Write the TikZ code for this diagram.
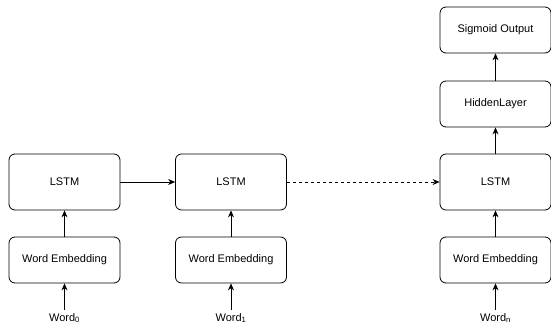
\documentclass[tikz,border=0pt]{standalone}
\usepackage{fontspec}
\setmainfont{Liberation Sans}
\usetikzlibrary{arrows.meta}
\begin{document}
\begin{tikzpicture}[x=1pt,y=-1pt,
  blk/.style={draw, line width=0.8pt, rounded corners=6pt, minimum width=111pt, inner sep=0pt, font=\fontsize{11}{13}\selectfont},
  tall/.style={blk, minimum height=56pt},
  short/.style={blk, minimum height=46pt},
  lbl/.style={inner sep=0pt, font=\fontsize{11}{13}\selectfont},
  arr/.style={line width=0.8pt, -{Stealth[length=7pt,width=6pt]}}]
\useasboundingbox (0,0) rectangle (551,329);
% column 0
\node[tall] (l0) at (64.5,182) {LSTM};
\node[short] (e0) at (64.5,260) {Word Embedding};
\node[lbl, anchor=north] (w0) at (64.5,313) {Word\textsubscript{0}};
\coordinate (w0t) at (64.5,310);
% column 1
\node[tall] (l1) at (231,182) {LSTM};
\node[short] (e1) at (231,260) {Word Embedding};
\node[lbl, anchor=north] (w1) at (231,313) {Word\textsubscript{1}};
\coordinate (w1t) at (231,310);
% column n
\node[tall] (ln) at (495.5,182) {LSTM};
\node[short] (en) at (495.5,260) {Word Embedding};
\node[lbl, anchor=north] (wn) at (495.5,313) {Word\textsubscript{n}};
\coordinate (wnt) at (495.5,310);
\node[short] (h) at (495.5,104) {HiddenLayer};
\node[short] (s) at (495.5,30) {Sigmoid Output};
% connectors
\draw[arr] (w0t) -- (e0.south);
\draw[arr] (e0) -- (l0);
\draw[arr] (w1t) -- (e1.south);
\draw[arr] (e1) -- (l1);
\draw[arr] (wnt) -- (en.south);
\draw[arr] (en) -- (ln);
\draw[arr] (ln) -- (h);
\draw[arr] (h) -- (s);
\draw[arr] (l0) -- (l1);
\draw[arr, dashed, dash pattern=on 3pt off 3pt] (l1) -- (ln);
\end{tikzpicture}
\end{document}
